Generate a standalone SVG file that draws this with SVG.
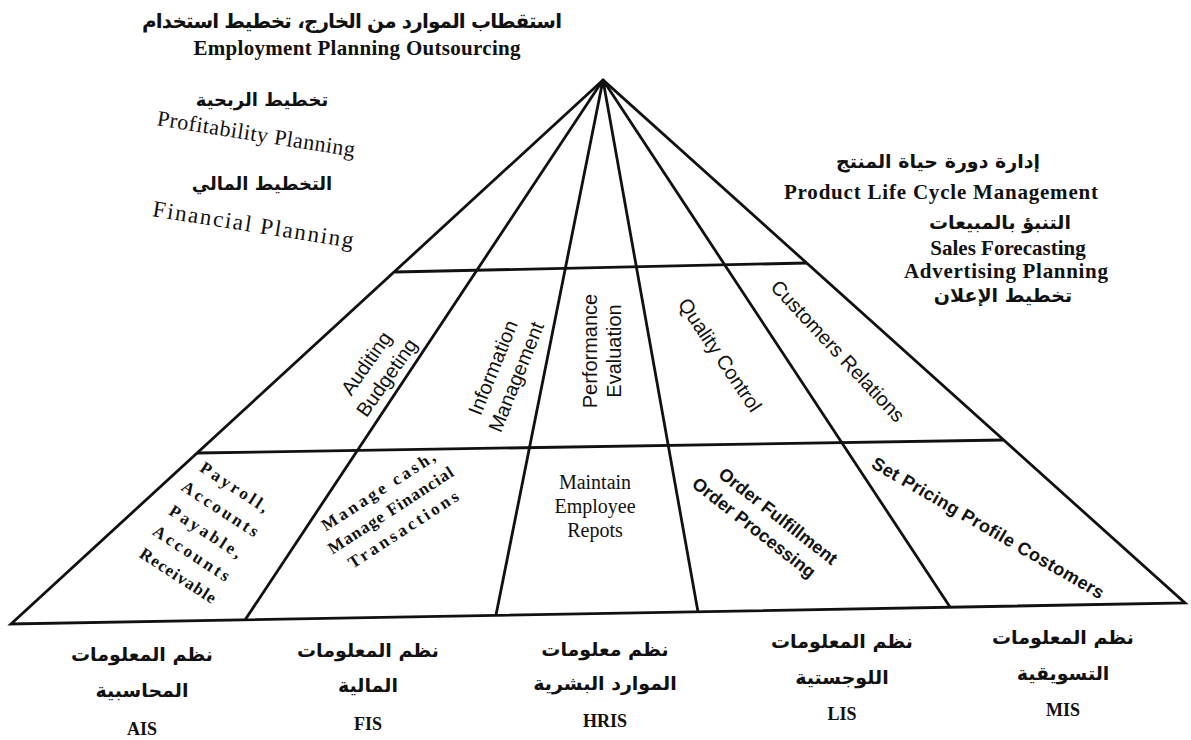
<svg xmlns="http://www.w3.org/2000/svg" width="1191" height="740" viewBox="0 0 1191 740">
<style>
.ln{stroke:#111;stroke-width:2.8;fill:none;stroke-linejoin:miter}
text{fill:#111}
.gs{font-family:"Liberation Sans",Arial,sans-serif;font-size:20px}
.gsb{font-family:"Liberation Sans",Arial,sans-serif;font-size:18px;font-weight:bold}
.tb{font-family:"Liberation Serif","Times New Roman",serif;font-weight:bold}
.tr{font-family:"Liberation Serif","Times New Roman",serif}
.ar{font-family:"DejaVu Sans","Noto Sans",sans-serif;font-weight:bold}
</style>
<rect width="1191" height="740" fill="#fff"/>
<g id="connectors">
<path class="ln" d="M603,80 L11,624 L1185,603 Z"/>
<path class="ln" d="M395,272 L807,263"/>
<path class="ln" d="M197,453 L1004,440"/>
<path class="ln" d="M603,80 L245,620 M603,80 L496,615 M603,80 L698,612 M603,80 L950,607"/>
</g>
<g id="top-left">
<text class="ar" x="352" y="28" font-size="20" text-anchor="middle" textLength="420">استقطاب الموارد من الخارج، تخطيط استخدام</text>
<text class="tb" x="357" y="55" font-size="21" text-anchor="middle" textLength="327">Employment Planning Outsourcing</text>
<text class="ar" x="262" y="106" font-size="18" text-anchor="middle">تخطيط الربحية</text>
<text class="tr" font-size="22" text-anchor="middle" transform="translate(255,141) rotate(9)" textLength="200">Profitability Planning</text>
<text class="ar" x="262" y="190" font-size="18" text-anchor="middle">التخطيط المالي</text>
<text class="tr" font-size="23" text-anchor="middle" transform="translate(252,232) rotate(9)" textLength="203">Financial Planning</text>
</g>
<g id="top-right">
<text class="ar" x="938" y="168" font-size="19" text-anchor="middle">إدارة دورة حياة المنتج</text>
<text class="tb" x="941" y="199" font-size="21" text-anchor="middle" textLength="314">Product Life Cycle Management</text>
<text class="ar" x="1000" y="229" font-size="19" text-anchor="middle">التنبؤ بالمبيعات</text>
<text class="tb" x="1008" y="255" font-size="21" text-anchor="middle">Sales Forecasting</text>
<text class="tb" x="1006" y="278" font-size="21" text-anchor="middle" textLength="204">Advertising Planning</text>
<text class="ar" x="1003" y="302" font-size="19" text-anchor="middle">تخطيط الإعلان</text>
</g>
<g id="n-auditing" transform="translate(376,370) rotate(-55)">
<text class="gs" text-anchor="middle"><tspan x="0" y="-5">Auditing</tspan><tspan x="0" y="20">Budgeting</tspan></text>
</g>
<g id="n-information" transform="translate(504,372) rotate(-68)">
<text class="gs" text-anchor="middle"><tspan x="0" y="-5">Information</tspan><tspan x="0" y="20">Management</tspan></text>
</g>
<g id="n-performance" transform="translate(602,351) rotate(-90)">
<text class="gs" text-anchor="middle"><tspan x="0" y="-5">Performance</tspan><tspan x="0" y="19">Evaluation</tspan></text>
</g>
<g id="n-quality" transform="translate(720,355) rotate(56)">
<text class="gs" text-anchor="middle" y="7">Quality Control</text>
</g>
<g id="n-customers" transform="translate(838,351) rotate(47)">
<text class="gs" text-anchor="middle" y="7">Customers Relations</text>
</g>
<g id="n-payroll" transform="translate(207,532) rotate(33)">
<text class="tb" font-size="17" text-anchor="middle" letter-spacing="3">
<tspan x="0" y="-47">Payroll,</tspan><tspan x="0" y="-21">Accounts</tspan><tspan x="0" y="6">Payable,</tspan><tspan x="0" y="32">Accounts</tspan><tspan x="0" y="58" letter-spacing="1">Receivable</tspan>
</text>
</g>
<g id="n-cash" transform="translate(390,509) rotate(-33)">
<text class="tb" font-size="17" text-anchor="middle" x="0" y="-16" textLength="132">Manage  cash,</text>
<text class="tb" font-size="17" text-anchor="middle" x="0" y="7" textLength="146">Manage Financial</text>
<text class="tb" font-size="17" text-anchor="middle" x="0" y="30" textLength="128">Transactions</text>
</g>
<g id="n-maintain">
<text class="tr" font-size="20" text-anchor="middle"><tspan x="595" y="489">Maintain</tspan><tspan x="595" y="513">Employee</tspan><tspan x="595" y="537">Repots</tspan></text>
</g>
<g id="n-order" transform="translate(766,522) rotate(38)">
<text class="gsb" font-size="19" text-anchor="middle"><tspan x="6" y="-6">Order Fulfillment</tspan><tspan x="-6" y="18">Order Processing</tspan></text>
</g>
<g id="n-pricing" transform="translate(988,528) rotate(30)">
<text class="gsb" text-anchor="middle" y="6" textLength="265">Set Pricing Profile Costomers</text>
</g>
<g id="n-ais">
<text class="ar" font-size="19" text-anchor="middle" x="142" y="661">نظم المعلومات</text>
<text class="ar" font-size="19" text-anchor="middle" x="142" y="697">المحاسبية</text>
<text class="tb" font-size="18" text-anchor="middle" x="142" y="735">AIS</text>
</g>
<g id="n-fis">
<text class="ar" font-size="19" text-anchor="middle" x="368" y="657">نظم المعلومات</text>
<text class="ar" font-size="19" text-anchor="middle" x="368" y="692">المالية</text>
<text class="tb" font-size="18" text-anchor="middle" x="368" y="730">FIS</text>
</g>
<g id="n-hris">
<text class="ar" font-size="19" text-anchor="middle" x="605" y="656">نظم معلومات</text>
<text class="ar" font-size="19" text-anchor="middle" x="605" y="690">الموارد البشرية</text>
<text class="tb" font-size="18" text-anchor="middle" x="605" y="727">HRIS</text>
</g>
<g id="n-lis">
<text class="ar" font-size="19" text-anchor="middle" x="842" y="648">نظم المعلومات</text>
<text class="ar" font-size="19" text-anchor="middle" x="842" y="684">اللوجستية</text>
<text class="tb" font-size="18" text-anchor="middle" x="842" y="720">LIS</text>
</g>
<g id="n-mis">
<text class="ar" font-size="19" text-anchor="middle" x="1063" y="644">نظم المعلومات</text>
<text class="ar" font-size="19" text-anchor="middle" x="1063" y="680">التسويقية</text>
<text class="tb" font-size="18" text-anchor="middle" x="1063" y="716">MIS</text>
</g>
</svg>
